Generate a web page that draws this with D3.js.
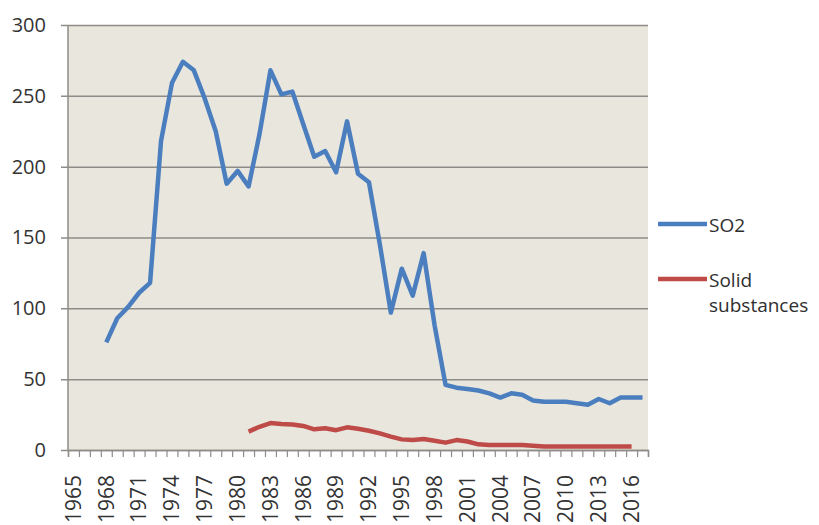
<!DOCTYPE html>
<html>
<head>
<meta charset="utf-8">
<script src="https://cdn.jsdelivr.net/npm/d3@7"></script>
<style>
  body { margin: 0; background: #fff; }
  svg { display: block; font-family: "Open Sans", sans-serif; }
</style>
</head>
<body>
<svg id="chart" width="819" height="525"></svg>
<script>
  var years = d3.range(1965, 2018);
  var yTicks = [0, 50, 100, 150, 200, 250, 300];
  var labelYears = d3.range(1965, 2018, 3);

  var so2 = [null, null, null,
    76, 93, 101, 111, 118, 218, 259, 274, 268, 248,
    225, 188, 197, 186, 223, 268, 251, 253, 230, 207,
    211, 196, 232, 195, 189, 145, 97, 128, 109, 139,
    88, 46, 44, 43, 42, 40, 37, 40, 39, 35,
    34, 34, 34, 33, 32, 36, 33, 37, 37, 37];

  var solids = [null, null, null, null, null, null, null, null,
    null, null, null, null, null, null, null, null,
    13, 16.4, 19, 18.3, 18, 17, 14.6, 15.3, 14, 16,
    15, 13.6, 11.7, 9.4, 7.5, 7, 7.7, 6.5, 5.2, 7,
    6, 4, 3.5, 3.5, 3.5, 3.5, 3,
    2.5, 2.5, 2.5, 2.5, 2.5, 2.5, 2.5, 2.5, 2.5,
    null];

  var series = [
    {name: ["SO2"], values: so2, color: "#4A7EBF"},
    {name: ["Solid", "substances"], values: solids, color: "#BE4B48"}
  ];

  var plotL = 68, plotR = 648, plotT = 25, plotB = 450;
  var svg = d3.select("#chart");

  var x = d3.scaleBand().domain(years).range([plotL, plotR]);
  var xEdge = d3.scaleLinear().domain([0, years.length]).range([plotL, plotR]);
  var y = d3.scaleLinear().domain([0, 300]).range([plotB, plotT]);

  svg.append("rect")
    .attr("x", plotL).attr("y", plotT)
    .attr("width", plotR - plotL).attr("height", plotB - plotT)
    .attr("fill", "#E9E6DD");

  // gridlines + y labels
  var yAxis = svg.append("g")
    .attr("transform", "translate(" + plotL + ",0)")
    .call(d3.axisLeft(y).tickValues(yTicks).tickSize(-(plotR - plotL)).tickPadding(22));
  yAxis.select(".domain").remove();
  yAxis.selectAll(".tick line")
    .attr("x1", -7)
    .attr("stroke", "#8E8C88").attr("stroke-width", 1.5);
  yAxis.selectAll(".tick text")
    .attr("font-size", 20).attr("fill", "#333")
    .attr("font-family", "Open Sans, sans-serif");

  svg.append("line")
    .attr("x1", plotL).attr("x2", plotL).attr("y1", plotT).attr("y2", plotB)
    .attr("stroke", "#8E8C88").attr("stroke-width", 1.5);

  // category boundary ticks
  var edgeAxis = svg.append("g")
    .attr("transform", "translate(0," + plotB + ")")
    .call(d3.axisBottom(xEdge).tickValues(d3.range(years.length + 1)).tickFormat("").tickSize(7));
  edgeAxis.select(".domain").attr("stroke", "#8E8C88").attr("stroke-width", 1.5);
  edgeAxis.selectAll(".tick line").attr("stroke", "#8E8C88").attr("stroke-width", 1.2);

  // rotated year labels
  var xAxis = svg.append("g")
    .attr("transform", "translate(0," + plotB + ")")
    .call(d3.axisBottom(x).tickValues(labelYears).tickSize(0));
  xAxis.select(".domain").remove();
  xAxis.selectAll(".tick text")
    .attr("font-size", 21).attr("fill", "#333")
    .attr("font-family", "Open Sans, sans-serif")
    .attr("text-anchor", "end")
    .attr("transform", "rotate(-90)")
    .attr("x", -25).attr("y", 0).attr("dy", "0.35em");

  var line = d3.line()
    .defined(function(d) { return d != null; })
    .x(function(d, i) { return x(years[i]) + x.bandwidth() / 2; })
    .y(function(d) { return y(d); });

  series.forEach(function(s) {
    svg.append("path")
      .datum(s.values)
      .attr("fill", "none")
      .attr("stroke", s.color)
      .attr("stroke-width", 4.5)
      .attr("stroke-linejoin", "round")
      .attr("d", line);
  });

  // legend
  var legend = svg.append("g");
  var legendY = [224, 279];
  series.forEach(function(s, i) {
    legend.append("line")
      .attr("x1", 658).attr("x2", 707)
      .attr("y1", legendY[i]).attr("y2", legendY[i])
      .attr("stroke", s.color).attr("stroke-width", 4.5);
    s.name.forEach(function(t, j) {
      legend.append("text")
        .attr("x", 709).attr("y", legendY[i] + 8 + j * 25)
        .attr("font-size", 19).attr("fill", "#2E2E2E")
        .text(t);
    });
  });
</script>
</body>
</html>
